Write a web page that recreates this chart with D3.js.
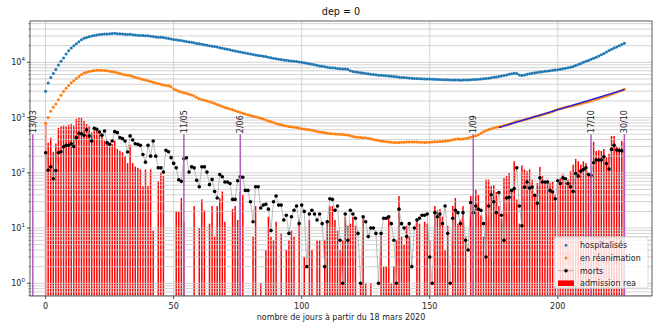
<!DOCTYPE html>
<html><head><meta charset="utf-8">
<script src="https://cdn.jsdelivr.net/npm/d3@7"></script>
<style>body{margin:0;background:#fff}svg{font-family:"DejaVu Sans",sans-serif}</style>
</head><body><svg id="c" width="661" height="331"></svg>
<script>
// ---- data (day index 0 = 18 mars 2020) ----
const hosp = [
3000,4200,5300,6300,7400,8900,10400,11900,14200,16100,
18200,20000,21700,23600,25500,27100,28200,29100,29900,30600,
31300,31700,32100,32400,32500,32800,33200,33400,33000,32700,
32600,32200,31900,32100,31600,31200,30900,30700,30400,30300,
30100,29700,29200,28700,28400,28300,28100,27600,27000,26500,
25900,25500,25100,24700,24300,23800,23400,23000,22500,22000,
21600,21200,20800,20400,20000,19600,19300,18900,18400,18000,
17600,17200,16800,16400,16000,15600,15300,15000,14700,14500,
14200,13900,13600,13300,13100,12900,12700,12400,12100,11800,
11600,11400,11200,11000,10900,10700,10600,10400,10300,10100,
10000,9800,9600,9400,9200,9000,8800,8600,8500,8300,
8100,8000,7950,7850,7750,7650,7600,7550,7450,7000,
6800,6700,6600,6500,6400,6300,6200,6100,6000,5950,
5850,5800,5750,5700,5650,5580,5520,5450,5380,5320,
5280,5240,5200,5150,5100,5080,5050,5020,5000,4980,
4960,4950,4920,4890,4870,4850,4830,4810,4790,4770,
4760,4760,4750,4760,4770,4790,4820,4860,4900,4940,
4980,5040,5100,5170,5250,5340,5430,5520,5620,5750,
5880,6050,6200,6350,6300,5900,5750,5900,6050,6200,
6350,6450,6550,6650,6750,6850,6950,7050,7150,7250,
7350,7500,7650,7800,7950,8100,8400,8750,9100,9500,
10000,10400,10800,11300,11800,12300,13000,13700,14500,15300,
16300,17200,18100,19000,20000,21000,22200];
const rea = [
790,1000,1300,1530,1760,2100,2530,2950,3380,3800,
4260,4630,5100,5550,6000,6370,6620,6800,6950,7100,
7150,7200,7150,7100,7000,6900,6750,6650,6500,6300,
6100,5950,5850,5750,5550,5350,5200,5050,4900,4800,
4650,4500,4350,4200,4100,4000,3900,3800,3750,3600,
3300,3150,3000,2900,2800,2750,2650,2550,2450,2300,
2200,2100,2050,1990,1930,1880,1800,1720,1650,1590,
1520,1480,1430,1380,1330,1280,1240,1200,1160,1120,
1090,1060,1030,1000,970,940,900,870,840,810,
780,760,740,720,700,690,680,670,660,645,
630,620,610,600,590,575,560,550,540,530,
520,515,510,505,500,497,493,488,482,470,
455,445,440,436,433,430,420,410,400,392,
385,378,372,366,360,356,352,352,355,357,
358,360,362,362,360,360,358,357,355,356,
358,360,363,366,368,370,375,380,385,395,
405,415,405,410,418,428,440,455,470,490,
520,555,585,610,630,650,665,680,695,715,
735,760,790,820,850,870,890,910,940,970,
1000,1030,1060,1090,1120,1160,1200,1240,1290,1350,
1410,1450,1490,1530,1570,1600,1640,1680,1730,1780,
1830,1890,1940,2000,2080,2150,2220,2300,2380,2460,
2540,2640,2760,2880,3000,3130,3250];
const morts = [
231,111,128,78,110,231,240,297,314,314,
336,300,433,519,510,478,597,465,377,640,
614,549,478,572,351,327,377,556,533,433,
415,377,238,465,393,336,327,314,214,156,
314,200,377,200,123,123,103,255,240,188,
148,123,75,70,180,187,103,128,123,73,
56,128,128,103,61,76,46,35,93,85,
68,68,64,33,33,72,85,83,48,48,
30,13,56,56,23,26,27,22,9,30,
38,26,26,14,17,8,16,21,25,12,
26,20,2,18,21,18,14,18,12,2,
13,34,33,21,25,6,1,18,6,21,
18,15,8,1,16,13,7,10,10,8,
1,8,15,15,16,12,6,1,22,12,
10,7,12,2,10,14,15,17,17,18,
3,1,19,16,18,12,25,8,1,15,
21,19,12,19,6,4,29,19,25,22,
21,12,3,25,40,30,19,44,17,6,
35,36,48,52,123,25,11,55,68,53,
55,39,28,81,68,68,68,48,45,34,
72,64,81,78,64,56,46,97,87,107,
115,123,93,89,152,170,170,170,195,147,
117,265,314,258,252,250];
const admRea = [
800,350,430,240,340,650,700,720,700,740,
760,720,950,1000,980,870,760,700,540,600,
580,560,520,380,350,290,330,380,270,250,
235,200,150,320,150,130,123,115,57,115,
57,115,9,0,70,100,87,0,0,0,
0,20,20,35,13,0,0,0,25,0,
10,33,21,0,12,25,7,25,35,46,
13,0,0,22,25,14,45,40,0,0,
0,7,25,0,1,0,4,16,7,6,
13,0,8,0,4,6,9,7,0,14,
0,3,0,14,4,0,6,6,0,6,
14,25,25,14,9,4,6,16,11,12,
16,11,0,1,16,1,0,1,0,0,
0,8,2,2,16,1,2,6,38,7,
5,11,7,0,0,14,12,0,13,12,
6,0,25,21,22,16,4,11,0,25,
35,12,14,25,7,0,38,40,50,40,
17,7,75,75,57,60,45,25,15,81,
87,100,48,162,33,12,136,115,107,115,
75,38,65,128,87,69,75,65,69,40,
65,81,94,69,75,107,140,179,162,140,
162,150,87,89,366,248,255,248,270,190,
220,463,463,305,284,376,351];
const eventLabels = ["13/03","11/05","2/06","1/09","17/10","30/10"];
const eventDays = [-5,54,76,167,213,226];
const eventTop = 500;
const fitDays = [177,226];
const fitValues = [660,3200];
const xTickValues = [0,50,100,150,200];
const yTickValues = [1,10,100,1000,10000];
const titleText = "dep = 0";
const xLabelText = "nombre de jours à partir du 18 mars 2020";
const legendLabels = ["hospitalisés","en réanimation","morts","admission rea"];

// ---- drawing ----
const svg = d3.select("#c");
const L=30,R=652,T=21,B=296;
const x = d3.scaleLinear().domain([-6.1,236.8]).range([L,R]);
const y = d3.scaleLog().domain([0.589,55900]).range([B,T]);

svg.append("defs").append("clipPath").attr("id","clip")
  .append("rect").attr("x",L).attr("y",T).attr("width",R-L).attr("height",B-T);
const g = svg.append("g").attr("clip-path","url(#clip)");

// bars (below grid, like matplotlib)
const bw = x(0.58)-x(0);
g.append("g").selectAll("rect").data(admRea.map((v,i)=>({v,i})).filter(d=>d.v>0))
  .join("rect")
  .attr("x",d=>x(d.i)-bw/2).attr("width",bw)
  .attr("y",d=>y(d.v)).attr("height",d=>B-y(d.v))
  .attr("fill","#ff0000");

// grid
const minorVals=[];
[0.1,1,10,100,1000,10000].forEach(b=>{for(let j=1;j<=9;j++){const v=b*j; if(v>=y.domain()[0]&&v<=y.domain()[1]) minorVals.push(v);}});
g.append("g").selectAll("line").data(minorVals).join("line")
  .attr("x1",L).attr("x2",R).attr("y1",d=>y(d)).attr("y2",d=>y(d))
  .attr("stroke","#c8c8c8").attr("stroke-width",0.8);
g.append("g").selectAll("line").data(xTickValues).join("line")
  .attr("y1",T).attr("y2",B).attr("x1",d=>x(d)).attr("x2",d=>x(d))
  .attr("stroke","#c8c8c8").attr("stroke-width",0.8);

// deaths
g.append("path").datum(morts)
  .attr("d",d3.line().x((d,i)=>x(i)).y(d=>y(d)))
  .attr("fill","none").attr("stroke","#a0a0a0").attr("stroke-width",0.7);
g.append("g").selectAll("circle").data(morts).join("circle")
  .attr("cx",(d,i)=>x(i)).attr("cy",d=>y(d)).attr("r",1.8).attr("fill","#000");

// hospitalisés / réanimation
g.append("g").selectAll("circle").data(hosp).join("circle")
  .attr("cx",(d,i)=>x(i)).attr("cy",d=>y(d)).attr("r",1.5).attr("fill","#1f77b4");
g.append("g").selectAll("circle").data(rea).join("circle")
  .attr("cx",(d,i)=>x(i)).attr("cy",d=>y(d)).attr("r",1.5).attr("fill","#ff7f0e");

// fit line
g.append("path").datum(fitDays.map((d,i)=>[d,fitValues[i]]))
  .attr("d",d3.line().x(d=>x(d[0])).y(d=>y(d[1])))
  .attr("stroke","#1a1ae6").attr("stroke-width",1.3).attr("fill","none");

// event lines + labels
eventDays.forEach((d,i)=>{
  g.append("line").attr("x1",x(d)).attr("x2",x(d)).attr("y1",B).attr("y2",y(eventTop))
    .attr("stroke","#b05cc0").attr("stroke-width",1.5);
  svg.append("text").attr("transform",`translate(${x(d)},${y(eventTop)}) rotate(-90)`)
    .attr("dy","0.35em").attr("x",1).attr("font-size",8).attr("fill","#222")
    .text(eventLabels[i]);
});

// frame
svg.append("rect").attr("x",L).attr("y",T).attr("width",R-L).attr("height",B-T)
  .attr("fill","none").attr("stroke","#333").attr("stroke-width",0.8);

// x axis ticks
const xa = svg.append("g");
xTickValues.forEach(v=>{
  xa.append("line").attr("x1",x(v)).attr("x2",x(v)).attr("y1",B).attr("y2",B+3).attr("stroke","#333").attr("stroke-width",0.8);
  xa.append("text").attr("x",x(v)).attr("y",B+13).attr("text-anchor","middle").attr("font-size",8).attr("fill","#222").text(v);
});
// y axis ticks
const ya = svg.append("g");
minorVals.forEach(v=>{
  ya.append("line").attr("x1",L-1.6).attr("x2",L).attr("y1",y(v)).attr("y2",y(v)).attr("stroke","#333").attr("stroke-width",0.6);
});
yTickValues.forEach(v=>{
  ya.append("line").attr("x1",L-3).attr("x2",L).attr("y1",y(v)).attr("y2",y(v)).attr("stroke","#333").attr("stroke-width",0.8);
  const t = ya.append("text").attr("x",L-5).attr("y",y(v)+3).attr("text-anchor","end").attr("font-size",8).attr("fill","#222");
  t.append("tspan").text("10");
  t.append("tspan").attr("dy",-4).attr("font-size",5.6).text(Math.round(Math.log10(v)));
});

// title and label
svg.append("text").attr("x",(L+R)/2).attr("y",15).attr("text-anchor","middle").attr("font-size",9.6).attr("fill","#111").text(titleText);
svg.append("text").attr("x",(L+R)/2).attr("y",320).attr("text-anchor","middle").attr("font-size",8).attr("fill","#222").text(xLabelText);

// legend
const lg = svg.append("g");
lg.append("rect").attr("x",554).attr("y",237).attr("width",94).attr("height",51).attr("rx",2)
  .attr("fill","#fff").attr("fill-opacity",0.8).attr("stroke","#d0d0d0").attr("stroke-width",0.8);
const ly = [245.3,258,270.7,283.2];
lg.append("circle").attr("cx",566).attr("cy",ly[0]).attr("r",1.4).attr("fill","#1f77b4");
lg.append("circle").attr("cx",566).attr("cy",ly[1]).attr("r",1.4).attr("fill","#ff7f0e");
lg.append("line").attr("x1",558).attr("x2",574).attr("y1",ly[2]).attr("y2",ly[2]).attr("stroke","#a0a0a0").attr("stroke-width",0.7);
lg.append("circle").attr("cx",566).attr("cy",ly[2]).attr("r",1.8).attr("fill","#000");
lg.append("rect").attr("x",558).attr("y",ly[3]-2.8).attr("width",16).attr("height",5.6).attr("fill","#ff0000");
legendLabels.forEach((t,i)=>{
  lg.append("text").attr("x",580).attr("y",ly[i]+3).attr("font-size",8).attr("fill","#222").text(t);
});
</script></body></html>
